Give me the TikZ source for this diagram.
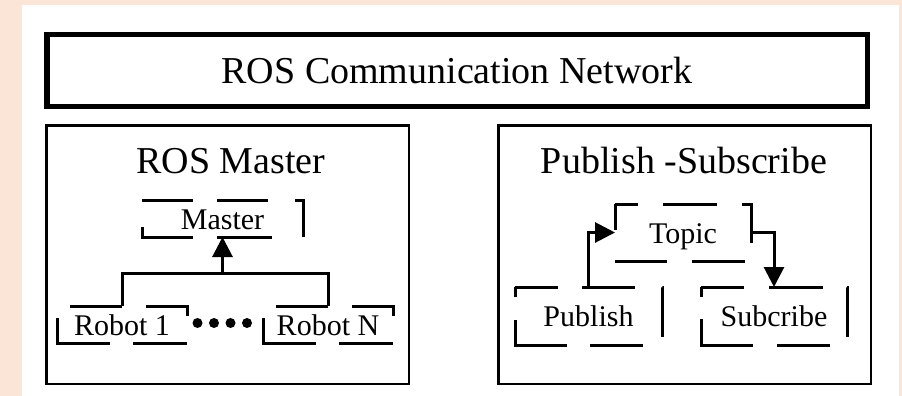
\documentclass[tikz,border=0pt]{standalone}
\usepackage{fontspec}
\setmainfont{Liberation Serif}
\usetikzlibrary{arrows.meta}
\definecolor{peach}{HTML}{FBE5D6}

\tikzset{
  headline/.style={font=\fontsize{38}{40}\selectfont},
  panel/.style={draw,line width=2.5pt,inner sep=0pt,outer sep=0pt},
  tag/.style={inner sep=0pt,outer sep=0pt,text height=21pt,text depth=0pt,font=\fontsize{30}{32}\selectfont},
  dashline/.style={line width=3pt},
  link/.style={line width=3pt},
  flow/.style={link,-{Triangle[length=20pt,width=20pt]}}
}

\begin{document}
\begin{tikzpicture}[x=1pt,y=-1pt]
    \fill[peach] (0,0) rectangle (902,396);
    \fill[white] (22,5) rectangle (899,396);

    \node[draw,line width=5.5pt,inner sep=0pt,minimum width=820.5pt,minimum height=71.5pt,headline] (net) at (457,70.5) {ROS Communication Network};

    \node[panel,minimum width=362.5pt,minimum height=258.5pt] (masterpanel) at (227.5,254.5) {};
    \node[panel,minimum width=372.5pt,minimum height=258.5pt] (pubsubpanel) at (684.5,254.5) {};
    \node[headline,anchor=base] (mastertitle) at (231,173) {ROS Master};
    \node[headline,anchor=base] (pubsubtitle) at (684,173) {Publish -Subscribe};

    \node[tag,minimum width=161pt,minimum height=37pt] (master) at (222.5,218.5) {Master};
    \node[tag,minimum width=130pt,minimum height=37pt] (robA) at (122,324.5) {Robot 1};
    \node[tag,minimum width=130pt,minimum height=37pt] (robN) at (328,324.5) {Robot N};
    \node[tag,minimum width=136pt,minimum height=57pt] (topic) at (683,232.5) {Topic};
    \node[tag,minimum width=147pt,minimum height=58pt] (pub) at (588.5,316) {Publish};
    \node[tag,minimum width=146pt,minimum height=58pt] (sub) at (774,316) {Subcribe};

    \foreach \n/\d/\p in {
        master/{on 51pt off 24pt on 51pt off 27pt on 45pt off 31pt on 55pt off 24pt on 61pt off 27pt}/0,
        robA/{on 52pt off 24pt on 51pt off 27pt on 54pt off 23pt on 78pt off 25pt}/321,
        robN/{on 52pt off 24pt on 51pt off 27pt on 54pt off 23pt on 78pt off 25pt}/321,
        topic/{on 49pt off 25pt on 54pt off 25pt on 48pt off 24pt on 53pt off 25pt on 52pt off 31pt}/26,
        pub/{on 53pt off 24pt on 53pt off 27pt on 50pt off 27pt on 53pt off 23pt on 77pt off 23pt}/10,
        sub/{on 53pt off 25pt on 54pt off 24pt on 50pt off 25pt on 53pt off 24pt on 78pt off 22pt}/10}
        \draw[dashline,dash pattern/.expanded=\d,dash phase=\p pt] (\n.north west) -- (\n.north east) -- (\n.south east) -- (\n.south west) -- cycle;

    \foreach \i in {0,...,3}
        \fill (197.5+16.5*\i,323) circle (5pt);

    \coordinate (bus) at (222.5,273);
    \draw[link] (robA.north) |- (bus);
    \draw[link] (robN.north) |- (bus);
    \draw[flow] (bus) -- (master.south);

    \draw[flow] (pub.north) |- (topic.west);
    \draw[flow] (topic.east) -| (sub.north);
\end{tikzpicture}
\end{document}
